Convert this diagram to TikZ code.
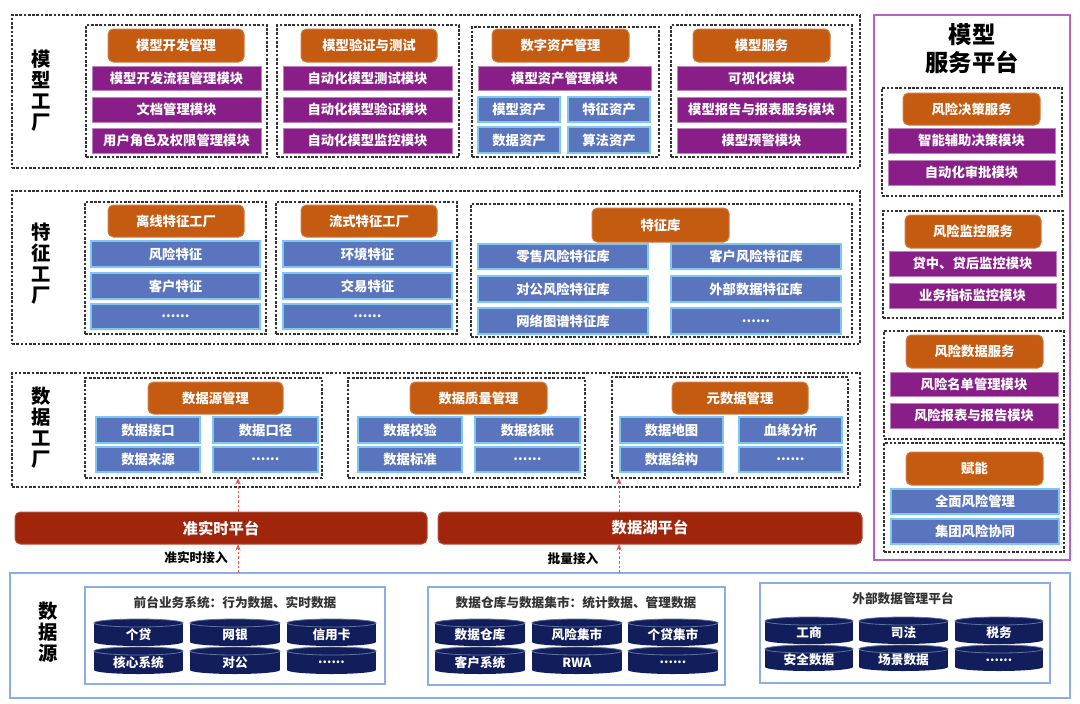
\documentclass[tikz,border=0pt]{standalone}
\usepackage{fontspec}
\setmainfont{Noto Sans CJK SC}
\usetikzlibrary{arrows.meta}

\definecolor{hdrorange}{RGB}{197,90,17}
\definecolor{modpurple}{RGB}{137,30,137}
\definecolor{modblue}{RGB}{90,117,190}
\definecolor{modedge}{RGB}{125,200,240}
\definecolor{barred}{RGB}{160,37,10}
\definecolor{dbnavy}{RGB}{18,30,92}
\definecolor{dbrim}{RGB}{95,115,160}
\definecolor{srcblue}{RGB}{140,172,228}
\definecolor{panelpurple}{RGB}{182,100,192}
\definecolor{arrred}{RGB}{235,85,85}

\tikzset{every picture/.style={line width=0.75pt}}
\tikzset{
  grp/.style={draw=black!80, dash pattern=on 2pt off 1.2pt, line width=0.9pt, inner sep=0pt, outer sep=0pt},
  hdr/.style={fill=hdrorange, draw=hdrorange!80!white, rounded corners=4pt, text=white, font=\fontsize{10}{12}\selectfont\bfseries, inner sep=0pt, outer sep=0pt},
  pmod/.style={fill=modpurple, draw=modpurple!55!white, line width=0.6pt, text=white, font=\fontsize{10}{12}\selectfont\bfseries, inner sep=0pt, outer sep=0pt},
  bmod/.style={fill=modblue, draw=modedge, line width=0.8pt, text=white, font=\fontsize{10}{12}\selectfont\bfseries, inner sep=0pt, outer sep=0pt},
  bar/.style={fill=barred, draw=barred!80!white, rounded corners=4pt, text=white, font=\fontsize{11.5}{13}\selectfont\bfseries, inner sep=0pt, outer sep=0pt},
  srcbox/.style={draw=srcblue, line width=1pt, inner sep=0pt, outer sep=0pt},
  panel/.style={draw=panelpurple, line width=1.3pt, inner sep=0pt, outer sep=0pt},
  vlabel/.style={align=center, font=\fontsize{14.5}{15.75}\selectfont\bfseries, inner sep=0pt},
  ptitle/.style={align=center, font=\fontsize{17.5}{21}\selectfont\bfseries, inner sep=0pt},
  note/.style={font=\fontsize{9.5}{11}\selectfont\bfseries, text=black!80, inner sep=0.75pt},
  dbtxt/.style={text=white, font=\fontsize{9.5}{11}\selectfont\bfseries, inner sep=0pt},
  feed/.style={draw=arrred, dash pattern=on 2pt off 1.5pt, line width=0.6pt, -{Stealth[length=5pt,width=4pt]}},
}

% box given by its corners in picture pixels
\newcommand{\blk}[7]{\node[#1, minimum width={(#5-#3)*0.75pt}, minimum height={(#6-#4)*0.75pt}] (#2) at ({(#3+#5)/2},{(#4+#6)/2}) {#7};}
% database disk given by its corners
\newcommand{\srcdb}[6]{%
  \fill[dbnavy] (#2,{#3+4}) rectangle (#4,{#5-4});
  \fill[dbnavy] ({(#2+#4)/2},{#5-4}) ellipse [x radius={(#4-#2)/2}, y radius=4];
  \filldraw[fill=dbnavy, draw=dbrim, line width=0.6pt] ({(#2+#4)/2},{#3+4}) ellipse [x radius={(#4-#2)/2}, y radius=4];
  \node[dbtxt] (#1) at ({(#2+#4)/2},{(#3+#5)/2+2}) {#6};}

\begin{document}
\begin{tikzpicture}[x=0.75pt,y=0.75pt,yscale=-1,xscale=1]
\useasboundingbox (0,0) rectangle (1080,703);

%Shape: model factory
\blk{grp}{mfac}{12}{15}{860}{168}{}
\node[vlabel] (mfaclbl) at (41,91) {模\\型\\工\\厂};
\blk{grp}{mdev}{86}{25}{267}{157}{}
\blk{hdr}{mdevh}{108}{29}{244}{62}{模型开发管理}
\blk{pmod}{mdev1}{92}{66}{261}{90}{模型开发流程管理模块}
\blk{pmod}{mdev2}{92}{97}{261}{122}{文档管理模块}
\blk{pmod}{mdev3}{92}{128}{261}{153}{用户角色及权限管理模块}
\blk{grp}{mval}{277}{25}{459}{157}{}
\blk{hdr}{mvalh}{301}{29}{437}{62}{模型验证与测试}
\blk{pmod}{mval1}{283}{66}{452}{90}{自动化模型测试模块}
\blk{pmod}{mval2}{283}{97}{452}{122}{自动化模型验证模块}
\blk{pmod}{mval3}{283}{128}{452}{153}{自动化模型监控模块}
\blk{grp}{mast}{472}{27}{659}{157}{}
\blk{hdr}{masth}{492}{29}{629}{62}{数字资产管理}
\blk{pmod}{mast1}{478}{66}{651}{90}{模型资产管理模块}
\blk{bmod}{mast2}{478}{97}{560}{122}{模型资产}
\blk{bmod}{mast3}{568}{97}{650}{122}{特征资产}
\blk{bmod}{mast4}{478}{127}{560}{153}{数据资产}
\blk{bmod}{mast5}{568}{127}{650}{153}{算法资产}
\blk{grp}{msrv}{671}{25}{852}{157}{}
\blk{hdr}{msrvh}{693}{29}{830}{62}{模型服务}
\blk{pmod}{msrv1}{677}{66}{846}{90}{可视化模块}
\blk{pmod}{msrv2}{677}{97}{846}{122}{模型报告与报表服务模块}
\blk{pmod}{msrv3}{677}{128}{846}{153}{模型预警模块}

%Shape: feature factory
\blk{grp}{ffac}{12}{191}{860}{344}{}
\node[vlabel] (ffaclbl) at (41,264) {特\\征\\工\\厂};
\blk{grp}{foff}{85}{202}{266}{334}{}
\blk{hdr}{foffh}{108}{205}{244}{237}{离线特征工厂}
\blk{bmod}{foff1}{91}{241}{260}{267}{风险特征}
\blk{bmod}{foff2}{91}{273}{260}{299}{客户特征}
\blk{bmod}{foff3}{91}{304}{260}{329}{......}
\blk{grp}{fstr}{276}{202}{457}{334}{}
\blk{hdr}{fstrh}{301}{205}{437}{237}{流式特征工厂}
\blk{bmod}{fstr1}{283}{241}{452}{267}{环境特征}
\blk{bmod}{fstr2}{283}{273}{452}{299}{交易特征}
\blk{bmod}{fstr3}{283}{304}{452}{329}{......}
\blk{grp}{flib}{471}{204}{852}{337}{}
\blk{hdr}{flibh}{592}{208}{729}{242}{特征库}
\blk{bmod}{flib1}{478}{244}{648}{269}{零售风险特征库}
\blk{bmod}{flib2}{671}{244}{841}{269}{客户风险特征库}
\blk{bmod}{flib3}{478}{276}{648}{302}{对公风险特征库}
\blk{bmod}{flib4}{671}{276}{841}{302}{外部数据特征库}
\blk{bmod}{flib5}{478}{308}{648}{334}{网络图谱特征库}
\blk{bmod}{flib6}{671}{308}{841}{334}{......}

%Shape: data factory
\blk{grp}{dfac}{12}{373}{860}{487}{}
\node[vlabel] (dfaclbl) at (41,428) {数\\据\\工\\厂};
\blk{grp}{dsrc}{85}{378}{322}{478}{}
\blk{hdr}{dsrch}{148}{382}{283}{414}{数据源管理}
\blk{bmod}{dsrc1}{96}{417}{200}{443}{数据接口}
\blk{bmod}{dsrc2}{213}{417}{318}{443}{数据口径}
\blk{bmod}{dsrc3}{96}{447}{200}{472}{数据来源}
\blk{bmod}{dsrc4}{213}{447}{318}{472}{......}
\blk{grp}{dqua}{348}{378}{585}{478}{}
\blk{hdr}{dquah}{410}{382}{547}{414}{数据质量管理}
\blk{bmod}{dqua1}{358}{417}{462}{443}{数据校验}
\blk{bmod}{dqua2}{475}{417}{580}{443}{数据核账}
\blk{bmod}{dqua3}{358}{447}{462}{472}{数据标准}
\blk{bmod}{dqua4}{475}{447}{580}{472}{......}
\blk{grp}{dmet}{612}{377}{848}{478}{}
\blk{hdr}{dmeth}{672}{382}{808}{414}{元数据管理}
\blk{bmod}{dmet1}{620}{417}{723}{443}{数据地图}
\blk{bmod}{dmet2}{739}{417}{842}{443}{血缘分析}
\blk{bmod}{dmet3}{620}{447}{723}{472}{数据结构}
\blk{bmod}{dmet4}{739}{447}{842}{472}{......}

%Shape: platforms
\blk{bar}{rtbar}{15}{512}{427}{544}{准实时平台}
\blk{bar}{lkbar}{438}{512}{862}{544}{数据湖平台}

%Shape: data sources
\blk{srcbox}{srcs}{10}{573}{1070}{698}{}
\node[vlabel] (srcslbl) at (48,632) {数\\据\\源};
\blk{srcbox}{sfront}{85}{587}{385}{684}{}
\node[note] (sfrontt) at (235,603) {前台业务系统：行为数据、实时数据};
\srcdb{sf1}{94}{619}{183}{646}{个贷}
\srcdb{sf2}{190}{619}{280}{646}{网银}
\srcdb{sf3}{287}{619}{376}{646}{信用卡}
\srcdb{sf4}{94}{647}{183}{674}{核心系统}
\srcdb{sf5}{190}{647}{280}{674}{对公}
\srcdb{sf6}{287}{647}{376}{674}{......}
\blk{srcbox}{sware}{428}{587}{725}{685}{}
\node[note] (swaret) at (576,603) {数据仓库与数据集市：统计数据、管理数据};
\srcdb{sw1}{435}{619}{525}{646}{数据仓库}
\srcdb{sw2}{532}{619}{622}{646}{风险集市}
\srcdb{sw3}{628}{619}{718}{646}{个贷集市}
\srcdb{sw4}{435}{647}{525}{674}{客户系统}
\srcdb{sw5}{532}{647}{622}{674}{RWA}
\srcdb{sw6}{628}{647}{718}{674}{......}
\blk{srcbox}{sext}{760}{583}{1050}{683}{}
\node[note] (sextt) at (903,599) {外部数据管理平台};
\srcdb{se1}{765}{617}{853}{644}{工商}
\srcdb{se2}{859}{617}{948}{644}{司法}
\srcdb{se3}{955}{617}{1043}{644}{税务}
\srcdb{se4}{765}{645}{853}{671}{安全数据}
\srcdb{se5}{859}{645}{948}{671}{场景数据}
\srcdb{se6}{955}{645}{1043}{671}{......}

%Straight Lines: feeds
\coordinate (rtx) at (238,0);
\coordinate (lkx) at (619,0);
\draw[feed] (srcs.north -| rtx) -- (rtbar.south -| rtx);
\draw[feed] (rtbar.north -| rtx) -- (dsrc.south -| rtx);
\draw[feed] (srcs.north -| lkx) -- (lkbar.south -| lkx);
\draw[feed] (lkbar.north -| lkx) -- (dmet.south -| lkx);
% Text Node
\node[note, text=black] (rtin) at (196,558) {准实时接入};
% Text Node
\node[note, text=black] (lkin) at (573,559) {批量接入};

%Shape: model service platform
\blk{panel}{svc}{874}{15}{1070}{560}{}
\node[ptitle] (svct) at (972,49) {模型\\服务平台};
\blk{grp}{rdec}{882}{88}{1062}{196}{}
\blk{hdr}{rdech}{903}{93}{1040}{125}{风险决策服务}
\blk{pmod}{rdec1}{888}{128}{1055}{153}{智能辅助决策模块}
\blk{pmod}{rdec2}{888}{160}{1055}{185}{自动化审批模块}
\blk{grp}{rmon}{883}{211}{1063}{318}{}
\blk{hdr}{rmonh}{905}{215}{1041}{248}{风险监控服务}
\blk{pmod}{rmon1}{889}{251}{1056}{276}{贷中、贷后监控模块}
\blk{pmod}{rmon2}{889}{283}{1056}{308}{业务指标监控模块}
\blk{grp}{rdat}{884}{331}{1064}{439}{}
\blk{hdr}{rdath}{906}{335}{1043}{368}{风险数据服务}
\blk{pmod}{rdat1}{890}{372}{1058}{396}{风险名单管理模块}
\blk{pmod}{rdat2}{890}{403}{1058}{428}{风险报表与报告模块}
\blk{grp}{remp}{884}{443}{1064}{552}{}
\blk{hdr}{remph}{906}{452}{1043}{485}{赋能}
\blk{bmod}{remp1}{891}{489}{1059}{514}{全面风险管理}
\blk{bmod}{remp2}{891}{519}{1059}{544}{集团风险协同}

\end{tikzpicture}
\end{document}
